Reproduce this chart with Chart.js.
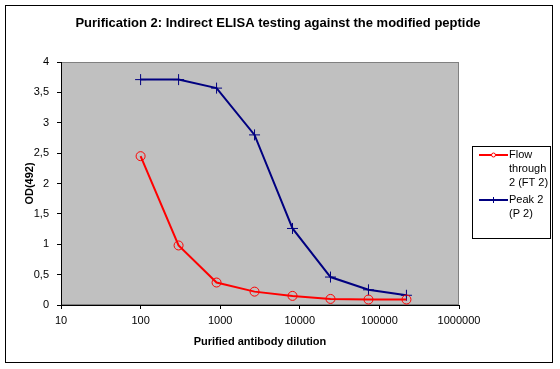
<!DOCTYPE html>
<html lang="en">
<head>
    <meta charset="UTF-8">
    <title>Purification 2 ELISA</title>
    <script src="https://cdn.jsdelivr.net/npm/chart.js"></script>
    <style>
        body { margin: 0; background: #fff; }
        canvas { display: block; }
    </style>
</head>
<body>
    <canvas id="myChart" width="560" height="369"></canvas>
    <script>
        // values
        const dilutions = [100, 300, 900, 2700, 8100, 24300, 72900, 218700];
        const flowThrough = [2.45, 0.98, 0.37, 0.22, 0.15, 0.10, 0.09, 0.09];
        const peak2 = [3.71, 3.71, 3.57, 2.80, 1.26, 0.46, 0.25, 0.16];
        const xTicks = [10, 100, 1000, 10000, 100000, 1000000];
        const yTicks = [0, 0.5, 1, 1.5, 2, 2.5, 3, 3.5, 4];

        const chartTitle = 'Purification 2: Indirect ELISA testing against the modified peptide';
        const legendLines = [
            ['Flow', 'through', '2 (FT 2)'],
            ['Peak 2', '(P 2)']
        ];

        const FONT = 'Arial, "Liberation Sans", sans-serif';

        function toPoints(values) {
            return dilutions.map((d, i) => ({ x: d, y: values[i] }));
        }

        // white page, outer frame, title and grey plot area
        const frame = {
            id: 'frame',
            beforeDraw(chart) {
                const ctx = chart.ctx;
                const a = chart.chartArea;
                ctx.save();
                ctx.fillStyle = '#fff';
                ctx.fillRect(0, 0, chart.width, chart.height);
                ctx.strokeStyle = '#000';
                ctx.lineWidth = 1;
                ctx.strokeRect(5.5, 5.5, 547, 357);
                ctx.fillStyle = '#c0c0c0';
                ctx.fillRect(a.left, a.top, a.right - a.left, a.bottom - a.top);
                ctx.strokeStyle = '#808080';
                ctx.strokeRect(a.left + 0.5, a.top + 0.5, a.right - a.left - 1, a.bottom - a.top - 1);

                ctx.fillStyle = '#000';
                ctx.font = 'bold 13px ' + FONT;
                ctx.textAlign = 'center';
                ctx.textBaseline = 'middle';
                ctx.fillText(chartTitle, 278, 23);
                ctx.restore();
            }
        };

        // Excel-like legend with wrapped labels
        const boxLegend = {
            id: 'boxLegend',
            afterDraw(chart) {
                const ctx = chart.ctx;
                ctx.save();
                ctx.strokeStyle = '#000';
                ctx.lineWidth = 1;
                ctx.strokeRect(472.5, 146.5, 78, 92);
                ctx.font = '11px ' + FONT;
                ctx.fillStyle = '#000';
                ctx.textBaseline = 'middle';
                let y = 155;
                chart.data.datasets.forEach((ds, i) => {
                    ctx.strokeStyle = ds.borderColor;
                    ctx.lineWidth = 2;
                    ctx.beginPath();
                    ctx.moveTo(479, y);
                    ctx.lineTo(508, y);
                    ctx.stroke();
                    ctx.lineWidth = 1;
                    ctx.beginPath();
                    if (ds.pointStyle === 'circle') {
                        ctx.fillStyle = '#fff';
                        ctx.arc(493.5, y, 2, 0, Math.PI * 2);
                        ctx.fill();
                        ctx.stroke();
                    } else {
                        ctx.moveTo(493.5, y - 3);
                        ctx.lineTo(493.5, y + 3);
                        ctx.stroke();
                    }
                    ctx.fillStyle = '#000';
                    legendLines[i].forEach((t, k) => {
                        ctx.fillText(t, 509, y + k * 14);
                    });
                    y += legendLines[i].length * 14 + 3;
                });
                ctx.restore();
            }
        };

        const ctx = document.getElementById('myChart').getContext('2d');
        const myChart = new Chart(ctx, {
            type: 'line',
            data: {
                datasets: [{
                    label: 'Flow through 2 (FT 2)',
                    data: toPoints(flowThrough),
                    borderColor: '#ff0000',
                    borderWidth: 2,
                    pointStyle: 'circle',
                    pointRadius: 4.5,
                    pointBorderWidth: 1,
                    pointBorderColor: '#ff0000',
                    pointBackgroundColor: 'rgba(0,0,0,0)',
                    tension: 0
                }, {
                    label: 'Peak 2 (P 2)',
                    data: toPoints(peak2),
                    borderColor: '#000080',
                    borderWidth: 2,
                    pointStyle: 'cross',
                    pointRadius: 5.5,
                    pointBorderWidth: 1,
                    pointBorderColor: '#000080',
                    tension: 0
                }]
            },
            options: {
                responsive: false,
                animation: false,
                clip: false,
                layout: { padding: { left: 6, right: 101, top: 62, bottom: 14 } },
                plugins: {
                    legend: { display: false },
                    tooltip: { enabled: false },
                    title: { display: false }
                },
                scales: {
                    x: {
                        type: 'logarithmic',
                        min: 10,
                        max: 1000000,
                        afterFit(scale) { scale.height = 50; },
                        afterBuildTicks(scale) { scale.ticks = xTicks.map(v => ({ value: v })); },
                        border: { color: '#000', width: 1 },
                        grid: { drawOnChartArea: false, tickLength: 4, color: '#000' },
                        ticks: {
                            color: '#000',
                            padding: 5,
                            maxRotation: 0,
                            autoSkip: false,
                            font: { family: FONT, size: 11 },
                            callback: v => String(v)
                        },
                        title: {
                            display: true,
                            text: 'Purified antibody dilution',
                            color: '#000',
                            font: { family: FONT, size: 11, weight: 'bold' },
                            padding: { bottom: 6 }
                        }
                    },
                    y: {
                        min: 0,
                        max: 4,
                        afterFit(scale) { scale.width = 55; },
                        afterBuildTicks(scale) { scale.ticks = yTicks.map(v => ({ value: v })); },
                        border: { color: '#000', width: 1 },
                        grid: { drawOnChartArea: false, tickLength: 4, color: '#000' },
                        ticks: {
                            color: '#000',
                            padding: 8,
                            font: { family: FONT, size: 11 },
                            callback: v => String(v).replace('.', ',')
                        },
                        title: {
                            display: true,
                            text: 'OD(492)',
                            color: '#000',
                            font: { family: FONT, size: 11, weight: 'bold' },
                            padding: { top: 17 }
                        }
                    }
                }
            },
            plugins: [frame, boxLegend]
        });
    </script>
</body>
</html>
